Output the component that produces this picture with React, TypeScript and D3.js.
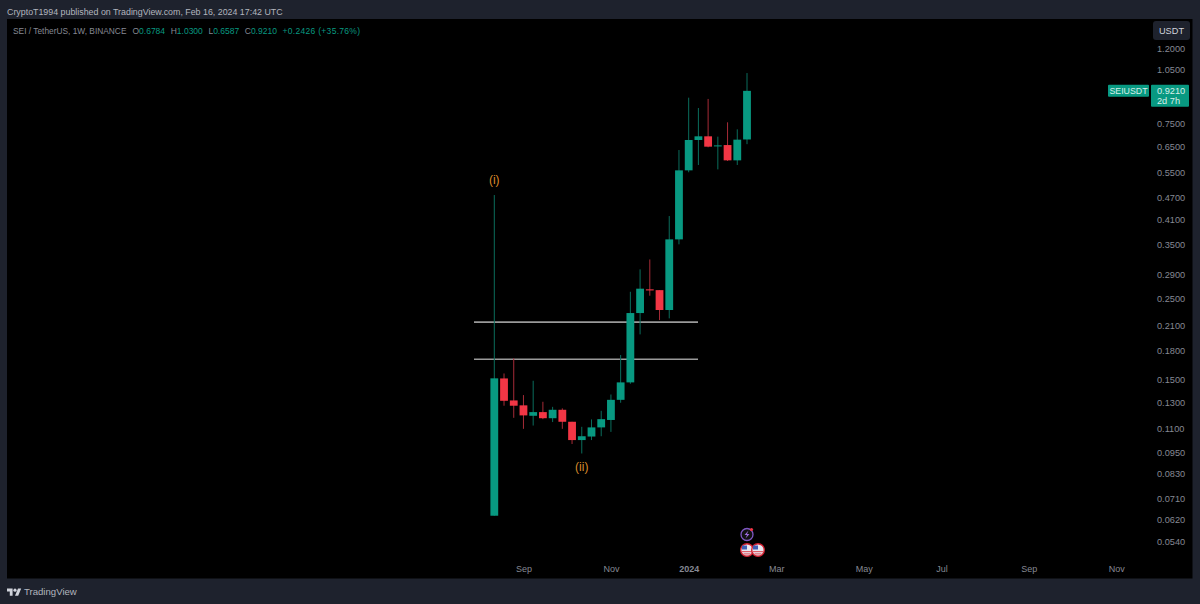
import { useEffect, useRef } from 'react'
import * as d3 from 'd3'

// weekly bars
const weeks = [
  '2023-08-14', '2023-08-21', '2023-08-28', '2023-09-04', '2023-09-11', '2023-09-18', '2023-09-25',
  '2023-10-02', '2023-10-09', '2023-10-16', '2023-10-23', '2023-10-30', '2023-11-06', '2023-11-13',
  '2023-11-20', '2023-11-27', '2023-12-04', '2023-12-11', '2023-12-18', '2023-12-25', '2024-01-01',
  '2024-01-08', '2024-01-15', '2024-01-22', '2024-01-29', '2024-02-05', '2024-02-12',
]
const opens = [
  0.0637, 0.151, 0.1315, 0.1275, 0.1194, 0.1222, 0.1176, 0.124, 0.115, 0.1025, 0.1048, 0.111, 0.1163, 0.132,
  0.1473, 0.2278, 0.2644, 0.2631, 0.2322, 0.362, 0.5587, 0.6762, 0.692, 0.6504, 0.655, 0.595, 0.6784,
]
const closes = [
  0.1511, 0.1312, 0.1272, 0.1197, 0.1222, 0.1176, 0.124, 0.115, 0.1025, 0.105, 0.111, 0.1169, 0.132, 0.1473,
  0.2278, 0.2655, 0.2626, 0.2322, 0.362, 0.5587, 0.6762, 0.692, 0.6484, 0.6536, 0.595, 0.6776, 0.921,
]
const highs = [
  0.4784, 0.1558, 0.1713, 0.136, 0.1488, 0.1304, 0.1263, 0.1251, 0.115, 0.1114, 0.1167, 0.1232, 0.1365, 0.175,
  0.2604, 0.2998, 0.3191, 0.2631, 0.4192, 0.6349, 0.8823, 0.8268, 0.8753, 0.6906, 0.7557, 0.7231, 1.03,
]
const lows = [
  0.0637, 0.1272, 0.1179, 0.11, 0.1123, 0.1169, 0.1148, 0.11, 0.1, 0.0942, 0.1025, 0.105, 0.1079, 0.1296,
  0.146, 0.1992, 0.254, 0.218, 0.2203, 0.3509, 0.552, 0.5779, 0.6459, 0.5621, 0.5926, 0.5779, 0.6587,
]
const levels = [0.2152, 0.1704]
const priceTicks = [
  1.2, 1.05, 0.75, 0.65, 0.55, 0.47, 0.41, 0.35, 0.29, 0.25, 0.21, 0.18, 0.15, 0.13, 0.11, 0.095, 0.083, 0.071,
  0.062, 0.054,
]
const timeTicks = ['2023-09-04', '2023-11-06', '2024-01-01', '2024-03-04', '2024-05-06', '2024-07-01', '2024-09-02', '2024-11-04']
const timeLabels = ['Sep', 'Nov', '2024', 'Mar', 'May', 'Jul', 'Sep', 'Nov']
const ohlc = [
  ['O', '0.6784'],
  ['H', '1.0300'],
  ['L', '0.6587'],
  ['C', '0.9210'],
]

const GREEN = '#089981'
const RED = '#f23645'
const FONT = '"Liberation Sans", Arial, sans-serif'

const width = 1200
const height = 604

const xScale = d3
  .scaleUtc()
  .domain([new Date(weeks[0]), new Date(weeks[weeks.length - 1])])
  .range([494.3, 747])
const yScale = d3.scaleLog().domain([1.05, 0.054]).range([70, 542])

export default function App() {
  const ref = useRef<SVGSVGElement | null>(null)

  useEffect(() => {
    const svg = d3.select(ref.current)
    svg.selectAll('*').remove()
    svg.style('font-family', FONT)

    svg.append('rect').attr('width', width).attr('height', height).attr('fill', '#1e222d')
    svg.append('rect').attr('x', 7).attr('y', 19).attr('width', 1185.5).attr('height', 559.5).attr('fill', '#000')

    // title line
    svg.append('text').attr('x', 7).attr('y', 14.5).attr('font-size', 8.85).attr('fill', '#b2b5be')
      .text('CryptoT1994 published on TradingView.com, Feb 16, 2024 17:42 UTC')

    const legend = svg.append('text').attr('x', 13).attr('y', 33.5).attr('font-size', 8.5).attr('fill', '#868993')
    legend.append('tspan').attr('font-size', 8.35).text('SEI / TetherUS, 1W, BINANCE')
    ohlc.forEach(([k, v], i) => {
      legend.append('tspan').attr('dx', i === 0 ? 6 : 5.6).text(k)
      legend.append('tspan').attr('fill', GREEN).text(v)
    })
    legend.append('tspan').attr('dx', 5.6).attr('fill', GREEN).attr('letter-spacing', 0.3).text('+0.2426 (+35.76%)')

    // horizontal levels
    svg.selectAll('.level').data(levels).enter().append('line')
      .attr('class', 'level')
      .attr('x1', 474).attr('x2', 698)
      .attr('y1', (d) => yScale(d)).attr('y2', (d) => yScale(d))
      .attr('stroke', '#9a9a9a').attr('stroke-width', 1.6)

    // candles
    const bars = weeks.map((w, i) => ({ date: new Date(w), o: opens[i], c: closes[i], h: highs[i], l: lows[i] }))
    const color = (d: { o: number; c: number }) => (d.c >= d.o ? GREEN : RED)
    const dim = (d: { o: number; c: number }) => (d.c >= d.o ? '#0a6d5c' : '#a62b37')

    svg.selectAll('.wick').data(bars).enter().append('line')
      .attr('class', 'wick')
      .attr('x1', (d) => xScale(d.date)).attr('x2', (d) => xScale(d.date))
      .attr('y1', (d) => yScale(d.h)).attr('y2', (d) => yScale(d.l))
      .attr('stroke', dim).attr('stroke-width', 1)

    svg.selectAll('.body').data(bars).enter().append('rect')
      .attr('class', 'body')
      .attr('x', (d) => xScale(d.date) - 3.9)
      .attr('width', 7.8)
      .attr('y', (d) => yScale(Math.max(d.o, d.c)))
      .attr('height', (d) => Math.max(1, Math.abs(yScale(d.o) - yScale(d.c))))
      .attr('fill', color)

    // wave labels
    svg.append('text').attr('x', xScale(new Date(weeks[0]))).attr('y', 184).attr('text-anchor', 'middle')
      .attr('font-size', 12).attr('fill', '#d98a2b').text('(i)')
    svg.append('text').attr('x', xScale(new Date(weeks[9]))).attr('y', 471).attr('text-anchor', 'middle')
      .attr('font-size', 12).attr('fill', '#d98a2b').text('(ii)')

    // price axis
    const yAxis = svg.append('g').attr('transform', 'translate(1151,0)')
      .call(d3.axisRight(yScale).tickValues(priceTicks).tickSize(0).tickPadding(6).tickFormat((d) => d3.format('.4f')(+d)))
    yAxis.select('.domain').remove()
    yAxis.selectAll('text').attr('fill', '#868993').attr('font-size', 9.2).attr('font-family', FONT)

    // time axis
    const xAxis = svg.append('g').attr('transform', 'translate(0,561)')
      .call(d3.axisBottom(xScale).tickValues(timeTicks.map((d) => new Date(d))).tickSize(0).tickPadding(5)
        .tickFormat((_, i) => timeLabels[i]))
    xAxis.select('.domain').remove()
    xAxis.selectAll('text').attr('fill', '#868993').attr('font-size', 9).attr('font-family', FONT)
      .attr('font-weight', (_, i) => (timeLabels[i] === '2024' ? 'bold' : 'normal'))

    // currency button
    svg.append('rect').attr('x', 1153).attr('y', 21).attr('width', 37).attr('height', 19).attr('rx', 3).attr('fill', '#1e222d')
    svg.append('text').attr('x', 1171.5).attr('y', 34).attr('text-anchor', 'middle').attr('font-size', 9.2)
      .attr('fill', '#d1d4dc').text('USDT')

    // last price tag
    const yLast = yScale(closes[closes.length - 1])
    svg.append('rect').attr('x', 1108).attr('y', yLast - 6).attr('width', 41).attr('height', 12).attr('rx', 1).attr('fill', GREEN)
    svg.append('text').attr('x', 1128.5).attr('y', yLast + 3.2).attr('text-anchor', 'middle').attr('font-size', 8.8)
      .attr('fill', '#d8efe9').text('SEIUSDT')
    svg.append('rect').attr('x', 1151).attr('y', yLast - 6).attr('width', 38).attr('height', 22).attr('rx', 1).attr('fill', GREEN)
    svg.append('text').attr('x', 1157).attr('y', yLast + 3.4).attr('font-size', 9.2).attr('fill', '#d8efe9').text('0.9210')
    svg.append('text').attr('x', 1157).attr('y', yLast + 13.4).attr('font-size', 9.2).attr('fill', '#d8efe9').text('2d 7h')

    // event icons
    const icons = svg.append('g')
    icons.append('circle').attr('cx', 747).attr('cy', 534.5).attr('r', 6).attr('fill', '#111').attr('stroke', '#7e57c2').attr('stroke-width', 1.3)
    icons.append('path').attr('d', 'M748.5 530.5 L744.5 535 L747 535 L745.5 538.5 L749.5 534 L747 534 Z').attr('fill', '#9c6ade')
    icons.append('circle').attr('cx', 751.5).attr('cy', 529.5).attr('r', 1.6).attr('fill', RED)
    ;[747, 758].forEach((cx) => {
      icons.append('circle').attr('cx', cx).attr('cy', 550).attr('r', 6.3).attr('fill', '#e8e8f0').attr('stroke', '#d11f2f').attr('stroke-width', 1.4)
      icons.append('rect').attr('x', cx - 5).attr('y', 545.5).attr('width', 5).attr('height', 4).attr('fill', '#3f5fb5')
      icons.append('rect').attr('x', cx - 5).attr('y', 551).attr('width', 10).attr('height', 1.2).attr('fill', '#e0606a')
      icons.append('rect').attr('x', cx - 3.5).attr('y', 553.3).attr('width', 7).attr('height', 1.2).attr('fill', '#e0606a')
    })

    // footer logo
    svg.append('path').attr('transform', 'translate(7,587) scale(0.4)')
      .attr('d', 'M14 22H7V11H0V4h14v18zM28 22h-8l7.5-18h8L28 22z').attr('fill', '#d1d4dc')
    svg.append('circle').attr('cx', 15).attr('cy', 590.2).attr('r', 1.6).attr('fill', '#d1d4dc')
    svg.append('text').attr('x', 24).attr('y', 595).attr('font-size', 9.6).attr('fill', '#b2b5be').text('TradingView')
  }, [])

  return (
    <svg
      ref={ref}
      width={width}
      height={height}
      style={{ position: 'absolute', left: 0, top: 0, display: 'block' }}
    />
  )
}
